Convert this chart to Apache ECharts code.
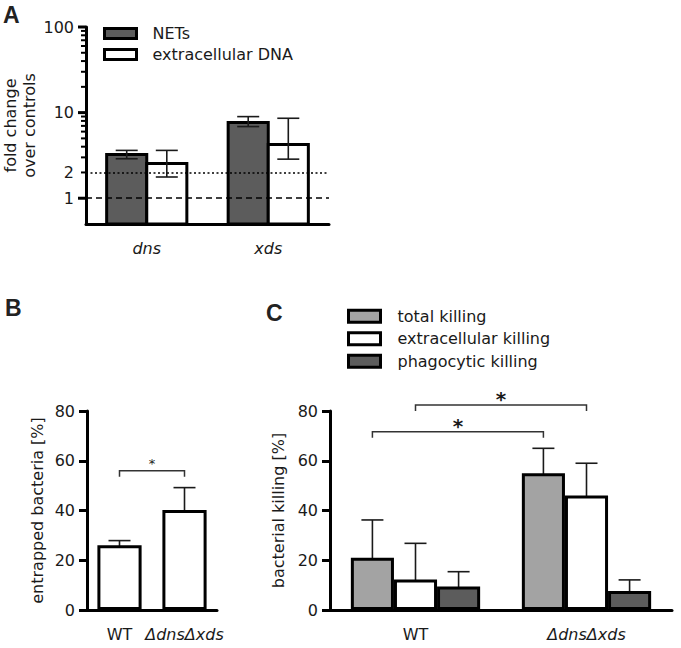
<!DOCTYPE html>
<html>
<head>
<meta charset="utf-8">
<script src="https://cdn.jsdelivr.net/npm/echarts@6/dist/echarts.min.js"></script>
<style>
html, body { margin: 0; padding: 0; background: #fff; }
#fig { width: 681px; height: 648px; }
</style>
</head>
<body>
<div id="fig"></div>
<script>
var fig = echarts.init(document.getElementById('fig'), null, {renderer: 'svg'});

// panel A - fold change (log axis)
var aCats = ['dns', 'xds'];
var aNets = [3.25, 7.65];
var aNetsErr = [[2.89, 3.62], [6.87, 8.98]];
var aDna = [2.55, 4.25];
var aDnaErr = [[1.77, 3.62], [2.86, 8.59]];
var aMin = 0.5, aMax = 100;
var aLabelTicks = [1, 2, 10, 100];
var aMajorTicks = [1, 10, 100];
var aMinorTicks = [2, 3, 4, 5, 6, 7, 8, 9, 20, 30, 40, 50, 60, 70, 80, 90];
var aRefLines = [1, 2];

// panel B - entrapped bacteria
var bCats = ['WT', 'ΔdnsΔxds'];
var bVals = [26, 40.2];
var bErr = [[21.4, 27.9], [31.2, 49.2]];
var bSig = [[0, 0, 1, 0, 56]];

// panel C - bacterial killing
var cCats = ['WT', 'ΔdnsΔxds'];
var cTotal = [21, 55];
var cTotalErr = [[13.4, 36.2], [38.9, 65]];
var cExtra = [12.3, 46];
var cExtraErr = [[4, 26.8], [33.9, 59]];
var cPhago = [9.4, 7.6];
var cPhagoErr = [[1, 15.4], [1, 12.1]];
var cSig = [[0, -1, 1, -1, 71.7], [0, 0, 1, 0, 82.4]];

var FONT = 'DejaVu Sans';
var INK = '#1a1a1a';
var DARK = '#5c5c5c';
var LIGHT = '#a3a3a3';

function errData(err) {
  return err.map(function (e, i) { return [i, e[0], e[1]]; });
}

// error bar drawn at a slot offset inside the category band
function errItem(slot, frac) {
  return function (params, api) {
    var w = api.size([1, 0])[0];
    var lo = api.coord([api.value(0), api.value(1)]);
    var hi = api.coord([api.value(0), api.value(2)]);
    var x = lo[0] + slot * frac * w;
    var cap = 11;
    var st = {stroke: INK, lineWidth: 1.6, fill: null};
    return {type: 'group', children: [
      {type: 'line', shape: {x1: x, y1: lo[1], x2: x, y2: hi[1]}, style: st},
      {type: 'line', shape: {x1: x - cap, y1: hi[1], x2: x + cap, y2: hi[1]}, style: st},
      {type: 'line', shape: {x1: x - cap, y1: lo[1], x2: x + cap, y2: lo[1]}, style: st}
    ]};
  };
}

// bars on the log axis start from axis min
function logBar(slot, frac) {
  return function (params, api) {
    var w = api.size([1, 0])[0] * frac;
    var top = api.coord([api.value(0), api.value(1)]);
    var base = api.coord([api.value(0), aMin]);
    return {
      type: 'rect',
      shape: {x: top[0] + (slot - 1) * w, y: top[1], width: w, height: base[1] - top[1]},
      style: api.style()
    };
  };
}

// log axis ticks: one group holding every tick value, drawn left of the axis
function logTicks(params, api) {
  var w = api.size([1, 0])[0];
  var kids = [];
  [[aMajorTicks, 8, 3], [aMinorTicks, 5, 2]].forEach(function (set) {
    set[0].forEach(function (v) {
      var p = api.coord([0, v]);
      var x = p[0] - w / 2;
      kids.push({type: 'rect', shape: {x: x - set[1], y: p[1] - set[2] / 2, width: set[1], height: set[2]},
                 style: {fill: '#000'}});
    });
  });
  return {type: 'group', children: kids};
}

function bracketItem(frac, drop, starSize, starBold, starLift) {
  return function (params, api) {
    var w = api.size([1, 0])[0];
    var p1 = api.coord([api.value(0), api.value(4)]);
    var p2 = api.coord([api.value(2), api.value(4)]);
    var x1 = p1[0] + api.value(1) * frac * w;
    var x2 = p2[0] + api.value(3) * frac * w;
    var y = p1[1];
    return {type: 'group', children: [
      {type: 'polyline', shape: {points: [[x1, y + drop], [x1, y], [x2, y], [x2, y + drop]]},
       style: {stroke: '#333', lineWidth: 1.5, fill: null}},
      {type: 'text', x: (x1 + x2) / 2, y: y - starLift,
       style: {text: '*', fontSize: starSize, fontWeight: starBold ? 'bold' : 'normal',
               fontFamily: FONT, fill: INK, align: 'center', verticalAlign: 'middle'}}
    ]};
  };
}

var barStyle = function (c) { return {color: c, borderColor: '#000', borderWidth: 3}; };
var textBase = {fontFamily: FONT, fontSize: 16, color: INK};

function catAxis(grid, cats, margin, italicAll) {
  return {
    type: 'category', gridIndex: grid, data: cats,
    axisLine: {onZero: false, lineStyle: {color: '#000', width: 3}},
    axisTick: {alignWithLabel: true, length: 9, lineStyle: {color: '#000', width: 3}},
    axisLabel: {
      interval: 0, hideOverlap: false,
      margin: margin, fontFamily: FONT, fontSize: 16, color: INK,
      fontStyle: italicAll ? 'italic' : 'normal',
      formatter: function (v) { return v.indexOf('Δ') >= 0 ? '{i|' + v + '}' : v; },
      rich: {i: {fontStyle: 'italic', fontFamily: FONT, fontSize: 16, color: INK}}
    }
  };
}

function pctAxis(grid, name, gap) {
  return {
    type: 'value', gridIndex: grid, min: 0, max: 80, interval: 20,
    name: name, nameLocation: 'middle', nameGap: gap,
    nameTextStyle: textBase,
    axisLine: {show: true, lineStyle: {color: '#000', width: 3}},
    axisTick: {show: true, length: 8, lineStyle: {color: '#000', width: 3}},
    axisLabel: {margin: 12, fontFamily: FONT, fontSize: 16, color: INK},
    splitLine: {show: false}
  };
}

var option = {
  animation: false,
  backgroundColor: '#fff',
  textStyle: {fontFamily: FONT},
  grid: [
    {left: 86, top: 27, width: 243, height: 197},
    {left: 87, top: 411, width: 130, height: 199},
    {left: 330, top: 411, width: 342, height: 199}
  ],
  legend: [
    {
      data: ['NETs', 'extracellular DNA'], orient: 'vertical', left: 103, top: 23, padding: 0,
      icon: 'rect', itemWidth: 32, itemHeight: 10, itemGap: 0, selectedMode: false,
      itemStyle: {borderColor: '#000', borderWidth: 3},
      textStyle: {fontFamily: FONT, fontSize: 16, color: INK, lineHeight: 21, padding: [0, 0, 0, 11]}
    },
    {
      data: ['total killing', 'extracellular killing', 'phagocytic killing'], orient: 'vertical',
      left: 347, top: 305, padding: 0, icon: 'rect', itemWidth: 32, itemHeight: 12, itemGap: 0,
      selectedMode: false,
      itemStyle: {borderColor: '#000', borderWidth: 3},
      textStyle: {fontFamily: FONT, fontSize: 16, color: INK, lineHeight: 22.5, padding: [0, 0, 0, 12]}
    }
  ],
  xAxis: [
    catAxis(0, aCats, 16, true),
    catAxis(1, bCats, 16, false),
    catAxis(2, cCats, 16, false)
  ],
  yAxis: [
    {
      type: 'log', logBase: 10, gridIndex: 0, min: aMin, max: aMax, position: 'left',
      name: 'fold change\nover controls', nameLocation: 'middle', nameGap: 47,
      nameTextStyle: {fontFamily: FONT, fontSize: 16, color: INK, lineHeight: 19},
      axisLine: {show: true, lineStyle: {color: '#000', width: 3}},
      axisTick: {show: false},
      axisLabel: {margin: 12, fontFamily: FONT, fontSize: 16, color: INK, customValues: aLabelTicks},
      splitLine: {show: false}
    },
    pctAxis(1, 'entrapped bacteria [%]', 42),
    pctAxis(2, 'bacterial killing [%]', 44)
  ],
  series: [
    // panel A
    {
      name: 'NETs', type: 'custom', xAxisIndex: 0, yAxisIndex: 0,
      itemStyle: barStyle(DARK), renderItem: logBar(0, 0.33),
      encode: {x: 0, y: 1},
      data: aNets.map(function (v, i) { return [i, v]; })
    },
    {
      name: 'extracellular DNA', type: 'custom', xAxisIndex: 0, yAxisIndex: 0,
      itemStyle: barStyle('#fff'), renderItem: logBar(1, 0.33),
      encode: {x: 0, y: 1},
      data: aDna.map(function (v, i) { return [i, v]; })
    },
    {
      name: 'a-err-nets', type: 'custom', xAxisIndex: 0, yAxisIndex: 0,
      renderItem: errItem(-0.5, 0.33), encode: {x: 0, y: [1, 2]}, data: errData(aNetsErr)
    },
    {
      name: 'a-err-dna', type: 'custom', xAxisIndex: 0, yAxisIndex: 0, z: 5,
      renderItem: errItem(0.5, 0.33), encode: {x: 0, y: [1, 2]}, data: errData(aDnaErr),
      markLine: {
        silent: true, symbol: 'none', label: {show: false},
        data: aRefLines.map(function (v, i) {
          return {yAxis: v, lineStyle: {color: '#000', width: 1.5, type: i === 0 ? [6, 4] : [2, 2.5]}};
        })
      }
    },
    {
      name: 'a-ticks', type: 'custom', xAxisIndex: 0, yAxisIndex: 0, z: 20, clip: false, silent: true,
      renderItem: logTicks, encode: {x: 0, y: 1}, data: [[0, 1]]
    },
    // panel B
    {
      name: 'entrapped', type: 'bar', xAxisIndex: 1, yAxisIndex: 1, barWidth: '68%',
      itemStyle: barStyle('#fff'), data: bVals
    },
    {
      name: 'b-err', type: 'custom', xAxisIndex: 1, yAxisIndex: 1,
      renderItem: errItem(0, 0.68), encode: {x: 0, y: [1, 2]}, data: errData(bErr)
    },
    {
      name: 'b-sig', type: 'custom', xAxisIndex: 1, yAxisIndex: 1, clip: false,
      renderItem: bracketItem(0.68, 6, 13, false, 7), data: bSig
    },
    // panel C
    {
      name: 'total killing', type: 'bar', xAxisIndex: 2, yAxisIndex: 2, barWidth: '25.2%', barGap: '0%',
      itemStyle: barStyle(LIGHT), data: cTotal
    },
    {
      name: 'extracellular killing', type: 'bar', xAxisIndex: 2, yAxisIndex: 2, barWidth: '25.2%', barGap: '0%',
      itemStyle: barStyle('#fff'), data: cExtra
    },
    {
      name: 'phagocytic killing', type: 'bar', xAxisIndex: 2, yAxisIndex: 2, barWidth: '25.2%', barGap: '0%',
      itemStyle: barStyle(DARK), data: cPhago
    },
    {
      name: 'c-err-total', type: 'custom', xAxisIndex: 2, yAxisIndex: 2,
      renderItem: errItem(-1, 0.252), encode: {x: 0, y: [1, 2]}, data: errData(cTotalErr)
    },
    {
      name: 'c-err-extra', type: 'custom', xAxisIndex: 2, yAxisIndex: 2,
      renderItem: errItem(0, 0.252), encode: {x: 0, y: [1, 2]}, data: errData(cExtraErr)
    },
    {
      name: 'c-err-phago', type: 'custom', xAxisIndex: 2, yAxisIndex: 2,
      renderItem: errItem(1, 0.252), encode: {x: 0, y: [1, 2]}, data: errData(cPhagoErr)
    },
    {
      name: 'c-sig', type: 'custom', xAxisIndex: 2, yAxisIndex: 2, clip: false,
      renderItem: bracketItem(0.252, 6, 20, true, 6), data: cSig
    }
  ],
  graphic: [
    {type: 'text', left: 3, top: 3, style: {text: 'A', fontFamily: 'Liberation Sans', fontWeight: 'bold', fontSize: 23, fill: '#222'}},
    {type: 'text', left: 5, top: 296, style: {text: 'B', fontFamily: 'Liberation Sans', fontWeight: 'bold', fontSize: 23, fill: '#222'}},
    {type: 'text', left: 266, top: 301, style: {text: 'C', fontFamily: 'Liberation Sans', fontWeight: 'bold', fontSize: 23, fill: '#222'}}
  ]
};

fig.setOption(option);
</script>
</body>
</html>
